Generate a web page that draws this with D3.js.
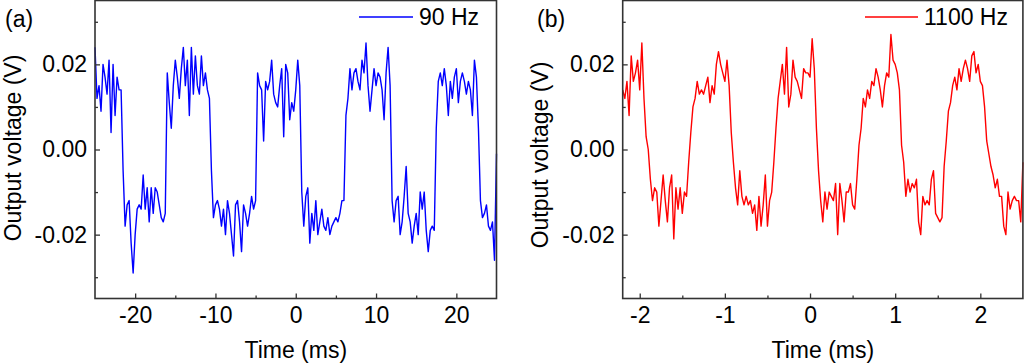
<!DOCTYPE html>
<html>
<head>
<meta charset="utf-8">
<script src="https://cdn.jsdelivr.net/npm/d3@7"></script>
<style>
body { margin: 0; background: #fff; }
svg text { font-family: Arial, "Liberation Sans", sans-serif; fill: #000; }
</style>
</head>
<body>
<div id="chart"></div>
<script>
// panel (a): 90 Hz, sampled every 0.25 ms from -25 ms, values in mV
var blueLabel = "90 Hz";
var blueT0 = -25, blueDt = 0.25;
var blueMv = [
  24, 12, 15, 9, 20, 17, 13, 21, 4, 20, 8, 17, 14, 14, -5, -18, -13, -12, -22, -29,
  -20, -14, -13, -14, -6, -14, -9, -17, -9, -15, -9, -10, -13, -16, -17, -15, 18, 11, 5, 15,
  21, 17, 12, 19, 24, 15, 21, 8, 24, 13, 22, 15, 13, 22, 15, 18, 14, 12, -5, -16,
  -13, -12, -14, -18, -14, -20, -12, -15, -20, -25, -13, -12, -17, -24, -13, -15, -18, -15, -11, -14,
  -12, 18, 15, 14, 2, 16, 14, 16, 21, 13, 11, 10, 15, 19, 3, 20, 18, 7, 11, 9,
  14, 21, 15, -10, -18, -11, -9, -22, -15, -19, -12, -20, -17, -14, -18, -19, -16, -20, -18, -17,
  -16, -17, -15, -12, -12, 8, 12, 19, 14, 18, 19, 16, 14, 21, 18, 25, 15, 9, 14, 19,
  15, 18, 17, 14, 7, 18, 24, 15, -12, -17, -12, -11, -20, -17, -11, -4, -15, -17, -22, -18,
  -15, -20, -10, -14, -10, -19, -24, -19, -18, -19, 5, 16, 18, 15, 19, 15, 8, 16, 12, 17,
  19, 11, 16, 18, 16, 13, 16, 14, 8, 21, 17, 5, -12, -16, -15, -13, -18, -19, -17, -26,
  -1
];

// panel (b): 1100 Hz, sampled every 0.025 ms from -2.2 ms, values in mV
var redLabel = "1100 Hz";
var redT0 = -2.2, redDt = 0.025;
var redMv = [
  14, 12, 16, 8, 22, 16, 18, 21, 14, 25, 12, 3, 0, -7, -12, -9, -10, -18, -12, -6,
  -12, -17, -9, -6, -21, -9, -14, -9, -15, -10, -11, -3, 4, 10, 12, 16, 13, 14, 13, 15,
  17, 11, 15, 13, 20, 23, 20, 18, 16, 21, 15, 4, -3, -9, -13, -5, -11, -13, -11, -13,
  -12, -15, -13, -19, -11, -18, -13, -6, -18, -12, -10, -3, 5, 12, 16, 20, 13, 24, 10, 13,
  21, 17, 16, 14, 12, 19, 18, 18, 17, 26, 19, 5, -5, -12, -17, -10, -14, -10, -11, -12,
  -8, -20, -8, -12, -17, -10, -10, -8, -13, -14, -7, 1, 5, 12, 10, 14, 12, 16, 15, 19,
  17, 14, 10, 15, 18, 17, 27, 21, 20, 18, 14, 1, -3, -11, -7, -10, -8, -9, -7, -17,
  -20, -11, -13, -12, -13, -7, -5, -15, -16, -17, -16, -4, 2, 9, 11, 15, 17, 14, 19, 16,
  19, 21, 19, 16, 22, 23, 18, 20, 16, 15, 10, 2, -1, -4, -6, -9, -7, -11, -11, -18,
  -20, -10, -14, -12, -11, -12, -12, -17, -3
];

var xTicksA = [-20, -10, 0, 10, 20], xMinorA = [-15, -5, 5, 15];
var xTicksB = [-2, -1, 0, 1, 2], xMinorB = [-1.5, -0.5, 0.5, 1.5];
var yTicks = [-0.02, 0, 0.02], yMinor = [-0.03, -0.01, 0.01, 0.03];

var width = 1024, height = 364;
var top0 = 0.5, bottom0 = 298.5;

var svg = d3.select('#chart').append('svg')
  .attr('width', width).attr('height', height)
  .style('display', 'block');
svg.append('rect').attr('width', width).attr('height', height).attr('fill', '#fff');

function toPoints(t0, dt, mv) {
  return mv.map(function (v, i) { return {t: t0 + i * dt, v: v / 1000}; });
}

function panel(p) {
  var x = d3.scaleLinear().domain(p.xDomain).range([p.left, p.right]);
  var y = d3.scaleLinear().domain([-0.035, 0.035]).range([bottom0, top0]);

  var g = svg.append('g');

  var line = d3.line().x(d => x(d.t)).y(d => y(d.v));
  g.append('path')
    .datum(toPoints(p.t0, p.dt, p.mv))
    .attr('d', line)
    .attr('fill', 'none')
    .attr('stroke', p.color)
    .attr('stroke-width', 1.4)
    .attr('stroke-linejoin', 'round');

  // x axis, ticks pointing inward
  g.append('g').attr('transform', 'translate(0,' + bottom0 + ')')
    .call(d3.axisBottom(x).tickValues(p.xTicks).tickSize(-5).tickPadding(8).tickFormat(d => String(d)));
  g.append('g').attr('transform', 'translate(0,' + bottom0 + ')')
    .call(d3.axisBottom(x).tickValues(p.xMinor).tickSize(-3).tickFormat(''));

  g.append('g').attr('transform', 'translate(' + p.left + ',0)')
    .call(d3.axisLeft(y).tickValues(yTicks).tickSize(-5).tickPadding(8).tickFormat(d => d.toFixed(2)));
  g.append('g').attr('transform', 'translate(' + p.left + ',0)')
    .call(d3.axisLeft(y).tickValues(yMinor).tickSize(-3).tickFormat(''));

  g.selectAll('.domain').remove();
  g.selectAll('.tick line').attr('stroke', '#333').attr('stroke-width', 1.3);
  g.selectAll('.tick text').attr('font-size', 23).attr('fill', '#000')
    .style('font-family', 'Arial, "Liberation Sans", sans-serif');

  g.append('rect')
    .attr('x', p.left).attr('y', top0)
    .attr('width', p.right - p.left).attr('height', bottom0 - top0)
    .attr('fill', 'none').attr('stroke', '#333').attr('stroke-width', 1.6);

  g.append('text')
    .attr('x', (p.left + p.right) / 2).attr('y', 358)
    .attr('text-anchor', 'middle').attr('font-size', 23)
    .text('Time (ms)');

  g.append('text')
    .attr('transform', 'translate(' + p.titleX + ',' + p.titleY + ') rotate(-90)')
    .attr('text-anchor', 'middle').attr('font-size', 23)
    .text('Output voltage (V)');

  g.append('text')
    .attr('x', p.letterX).attr('y', 27)
    .attr('font-size', 23)
    .text(p.letter);

  g.append('line')
    .attr('x1', p.legX1).attr('x2', p.legX2).attr('y1', 17).attr('y2', 17)
    .attr('stroke', p.color).attr('stroke-width', 1.5);
  g.append('text')
    .attr('x', p.legX2 + 6).attr('y', 25)
    .attr('font-size', 23)
    .text(p.label);
}

panel({
  left: 95, right: 496.5, xDomain: [-25, 25],
  t0: blueT0, dt: blueDt, mv: blueMv, color: '#0000ff', label: blueLabel,
  xTicks: xTicksA, xMinor: xMinorA,
  letter: '(a)', letterX: 5, titleX: 20.5, titleY: 148,
  legX1: 359, legX2: 413
});

panel({
  left: 622.7, right: 1022.9, xDomain: [-2.2, 2.5],
  t0: redT0, dt: redDt, mv: redMv, color: '#ff0000', label: redLabel,
  xTicks: xTicksB, xMinor: xMinorB,
  letter: '(b)', letterX: 537, titleX: 548, titleY: 155,
  legX1: 865, legX2: 918
});
</script>
</body>
</html>
